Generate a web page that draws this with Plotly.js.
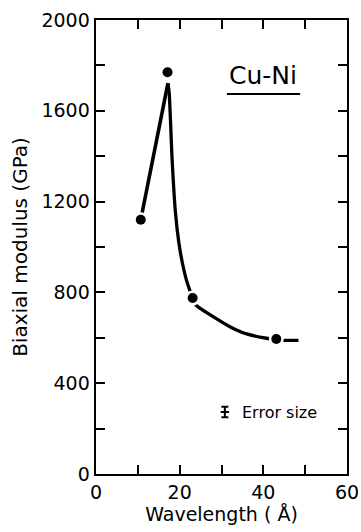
<!DOCTYPE html>
<html>
<head>
<meta charset="utf-8">
<script src="https://cdn.plot.ly/plotly-3.0.1.min.js"></script>
<style>
  html, body { margin: 0; padding: 0; background: #fff; }
  #chart { width: 361px; height: 532px; }
</style>
</head>
<body>
<div id="chart"></div>
<script>
// Measured biaxial modulus of Cu-Ni multilayers vs. composition wavelength
const wavelength = [10.7, 17.1, 23.1, 43.1];      // Å
const modulus    = [1120, 1770, 775, 595];        // GPa

// Hand-drawn guide curve through the data: rising leg and decaying leg
const riseWavelength  = [10.7, 17.2];
const riseModulus     = [1120, 1722];
const decayWavelength = [17.2, 17.5, 18.2, 19.0, 19.8, 20.7, 21.6, 22.5, 23.1, 23.9, 28.0, 32.0, 36.0, 40.8, 43.1, 45.2, 48.4];
const decayModulus    = [1722, 1677, 1383, 1150, 1020, 925, 855, 805, 775, 744, 693, 649, 617, 598, 593, 589, 589];

// Typical error bar shown as a key
const errorKeyWavelength = [30.8];
const errorKeyModulus    = [273];
const errorKeySize       = [23];

const xTickVals = [0, 20, 40, 60];
const yTickVals = [0, 400, 800, 1200, 1600, 2000];

const FONT = 'DejaVu Sans, sans-serif';

const traces = [
  { x: riseWavelength, y: riseModulus, mode: 'lines', type: 'scatter',
    line: { color: '#000', width: 3.6, shape: 'linear' }, hoverinfo: 'skip' },
  { x: decayWavelength, y: decayModulus, mode: 'lines', type: 'scatter',
    line: { color: '#000', width: 3.3, shape: 'spline', smoothing: 0.6 }, hoverinfo: 'skip' },
  // white halo so the curve stops short of each point
  { x: wavelength, y: modulus, mode: 'markers', type: 'scatter',
    marker: { color: '#fff', size: 15 }, hoverinfo: 'skip' },
  { x: wavelength, y: modulus, mode: 'markers', type: 'scatter',
    marker: { color: '#000', size: 10 } },
  { x: errorKeyWavelength, y: errorKeyModulus, mode: 'markers', type: 'scatter',
    marker: { symbol: 'line-ew', size: 6, line: { color: '#000', width: 2 } },
    error_y: { type: 'data', array: errorKeySize, visible: true, color: '#000', thickness: 2, width: 3.5 } }
];

const axisCommon = {
  showgrid: false, zeroline: false,
  showline: true, linecolor: '#000', linewidth: 2.4, mirror: 'ticks',
  ticks: 'inside', ticklen: 9, tickwidth: 2, tickcolor: '#000',
  tickfont: { family: FONT, size: 19, color: '#000' }
};

const layout = {
  width: 361, height: 532,
  margin: { l: 96, r: 14, t: 20, b: 58 },
  paper_bgcolor: '#fff', plot_bgcolor: '#fff',
  showlegend: false,
  xaxis: Object.assign({}, axisCommon, {
    range: [0, 60], tickmode: 'array', tickvals: xTickVals,
    minor: { dtick: 10, ticks: 'inside', ticklen: 9, tickwidth: 2, tickcolor: '#000' },
    title: { text: 'Wavelength ( Å)', font: { family: FONT, size: 19, color: '#000' }, standoff: 5 }
  }),
  yaxis: Object.assign({}, axisCommon, {
    range: [0, 2000], tickmode: 'array', tickvals: yTickVals,
    minor: { dtick: 200, ticks: 'inside', ticklen: 9, tickwidth: 2, tickcolor: '#000' },
    title: { text: 'Biaxial modulus (GPa)', font: { family: FONT, size: 20, color: '#000' }, standoff: 9 }
  }),
  annotations: [
    { x: 40, y: 1755, xref: 'x', yref: 'y', text: 'Cu-Ni', showarrow: false,
      font: { family: FONT, size: 25, color: '#000' }, xanchor: 'center', yanchor: 'middle' },
    { x: 34.4, y: 273, xref: 'x', yref: 'y', text: 'Error size', showarrow: false,
      font: { family: FONT, size: 16, color: '#000' }, xanchor: 'left', yanchor: 'middle' }
  ],
  shapes: [
    { type: 'line', xref: 'x', yref: 'y', x0: 31.3, x1: 48.8, y0: 1674, y1: 1674,
      line: { color: '#000', width: 2 } }
  ]
};

Plotly.newPlot('chart', traces, layout, { staticPlot: true, displayModeBar: false });
</script>
</body>
</html>
